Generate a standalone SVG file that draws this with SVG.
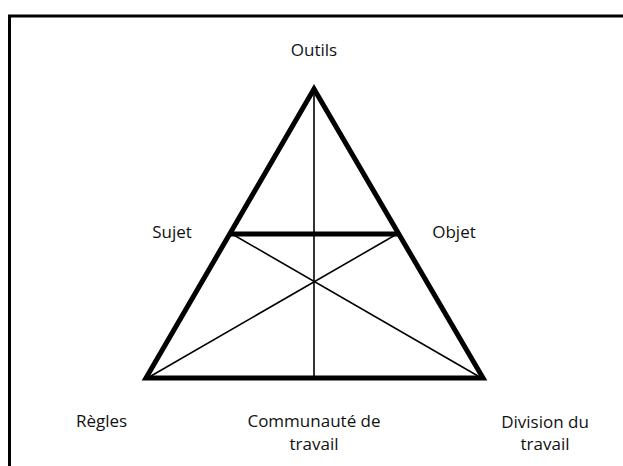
<svg xmlns="http://www.w3.org/2000/svg" width="623" height="466" viewBox="0 0 623 466">
<style>
text{font-family:"Open Sans","Liberation Sans",sans-serif;font-size:17px;fill:#111;text-anchor:middle}
.thick{stroke:#000;stroke-width:5;fill:none;stroke-linejoin:miter}
.thin{stroke:#000;stroke-width:1.6;fill:none}
</style>
<rect x="0" y="0" width="623" height="466" fill="#fff"/>
<path d="M9.5 470 V16 H630" fill="none" stroke="#000" stroke-width="3"/>
<g id="connectors">
<line class="thin" x1="314" y1="90" x2="314" y2="377"/>
<line class="thin" x1="151" y1="376" x2="397" y2="234"/>
<line class="thin" x1="478" y1="376" x2="232" y2="234"/>
<polygon class="thick" points="314,89 146,378 483,378"/>
<line class="thick" x1="230" y1="234" x2="398" y2="234"/>
</g>
<g id="outils"><text x="314" y="56">Outils</text></g>
<g id="sujet"><text x="172" y="238">Sujet</text></g>
<g id="objet"><text x="454" y="238">Objet</text></g>
<g id="regles"><text x="101.5" y="427">Règles</text></g>
<g id="communaute"><text x="314" y="427">Communauté de</text><text x="314" y="450">travail</text></g>
<g id="division"><text x="545" y="428">Division du</text><text x="545" y="450">travail</text></g>
</svg>
